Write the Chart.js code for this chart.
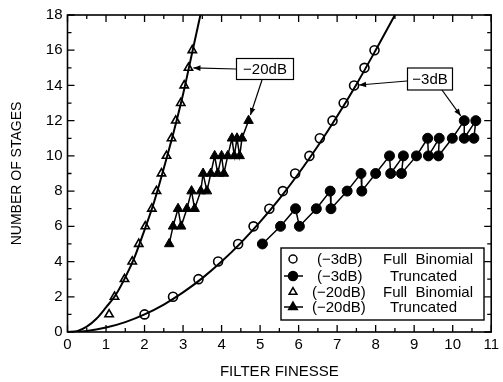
<!DOCTYPE html>
<html>
<head>
<meta charset="utf-8">
<script src="https://cdn.jsdelivr.net/npm/chart.js@4.4.1/dist/chart.umd.min.js"></script>
<style>
  html, body { margin: 0; padding: 0; background: #fff; }
</style>
</head>
<body>
<canvas id="chart" width="503" height="382"></canvas>
<script>
// stages vs filter finesse

// -3dB full binomial (open circles)
const full3Finesse = [2.0, 2.74, 3.40, 3.91, 4.43, 4.83, 5.24, 5.59, 5.91, 6.28, 6.55, 6.88, 7.17, 7.44, 7.71, 7.97];
const full3Stages = [1, 2, 3, 4, 5, 6, 7, 8, 9, 10, 11, 12, 13, 14, 15, 16];

// -3dB truncated (filled circles, zigzag)
const trunc3Finesse = [5.06, 5.53, 5.92, 6.02, 6.46, 6.82, 6.84, 7.26, 7.62, 7.64, 8.00, 8.36, 8.39, 8.72, 8.67, 9.06, 9.35, 9.37, 9.65, 9.63, 9.99, 10.30, 10.30, 10.60, 10.55];
const trunc3Stages = [5, 6, 7, 6, 7, 8, 7, 8, 9, 8, 9, 10, 9, 10, 9, 10, 11, 10, 11, 10, 11, 12, 11, 12, 11];

// -20dB full binomial (open triangles)
const full20Finesse = [1.08, 1.22, 1.48, 1.68, 1.85, 2.02, 2.19, 2.31, 2.44, 2.57, 2.70, 2.81, 2.94, 3.03, 3.14, 3.24];
const full20Stages = [1, 2, 3, 4, 5, 6, 7, 8, 9, 10, 11, 12, 13, 14, 15, 16];

// -20dB truncated (filled triangles, zigzag)
const trunc20Finesse = [2.64, 2.74, 2.87, 2.95, 3.10, 3.22, 3.30, 3.46, 3.52, 3.62, 3.72, 3.82, 3.90, 4.00, 4.06, 4.16, 4.27, 4.33, 4.40, 4.47, 4.53, 4.70];
const trunc20Stages = [5, 6, 7, 6, 7, 8, 7, 8, 9, 8, 9, 10, 9, 10, 9, 10, 11, 10, 11, 10, 11, 12];

// smooth curves drawn through the full binomial points
const curve3Finesse = [0, 0.5, 1, 1.5, 2, 2.5, 3, 3.5, 4, 4.5, 5, 5.5, 6, 6.5, 7, 7.5, 8, 8.5];
const curve3Stages = [0, 0.06, 0.25, 0.56, 1, 1.56, 2.25, 3.06, 4, 5.06, 6.25, 7.56, 9, 10.56, 12.25, 14.06, 16, 18];
const curve20Finesse = [0, 0.25, 0.5, 0.75, 1, 1.25, 1.5, 1.75, 2, 2.25, 2.5, 2.75, 3, 3.25, 3.45];
const curve20Stages = [0, 0.05, 0.3, 0.75, 1.4, 2.1, 3.1, 4.3, 5.8, 7.4, 9.3, 11.3, 13.5, 16.0, 18];

const xTicks = [0, 1, 2, 3, 4, 5, 6, 7, 8, 9, 10, 11];
const yTicks = [0, 2, 4, 6, 8, 10, 12, 14, 16, 18];

const legendLabels = [
  ['(\u22123dB)', 'Full  Binomial'],
  ['(\u22123dB)', 'Truncated'],
  ['(\u221220dB)', 'Full  Binomial'],
  ['(\u221220dB)', 'Truncated']
];

const pts = (xs, ys) => xs.map((v, i) => ({ x: v, y: ys[i] }));
const FONT = '"Liberation Sans", Arial, Helvetica, sans-serif';

function arrow(ctx, x1, y1, x2, y2, gap) {
  const ang = Math.atan2(y2 - y1, x2 - x1);
  const ex = x2 - Math.cos(ang) * gap, ey = y2 - Math.sin(ang) * gap;
  ctx.beginPath();
  ctx.moveTo(x1, y1);
  ctx.lineTo(ex, ey);
  ctx.stroke();
  const L = 7, W = 2.8;
  ctx.beginPath();
  ctx.moveTo(ex, ey);
  ctx.lineTo(ex - Math.cos(ang) * L - Math.sin(ang) * W, ey - Math.sin(ang) * L + Math.cos(ang) * W);
  ctx.lineTo(ex - Math.cos(ang) * L + Math.sin(ang) * W, ey - Math.sin(ang) * L - Math.cos(ang) * W);
  ctx.closePath();
  ctx.fill();
}

function labelBox(ctx, text, cx, cy, w, h) {
  ctx.fillStyle = '#fff';
  ctx.fillRect(cx - w / 2, cy - h / 2, w, h);
  ctx.strokeRect(cx - w / 2, cy - h / 2, w, h);
  ctx.fillStyle = '#000';
  ctx.textAlign = 'center';
  ctx.textBaseline = 'middle';
  ctx.fillText(text, cx, cy + 1);
}

const extras = {
  id: 'extras',
  afterDatasetsDraw(chart) {
    const { ctx, chartArea: a, scales: { x, y } } = chart;
    ctx.save();
    ctx.strokeStyle = '#000';
    ctx.fillStyle = '#000';

    // frame with inward ticks on all sides
    ctx.lineWidth = 1.6;
    ctx.strokeRect(a.left, a.top, a.right - a.left, a.bottom - a.top);
    ctx.lineWidth = 1.3;
    ctx.beginPath();
    for (let v = 0; v <= 11; v += 0.5) {
      const px = x.getPixelForValue(v);
      const len = Number.isInteger(v) ? 7 : 4;
      ctx.moveTo(px, a.bottom); ctx.lineTo(px, a.bottom - len);
      ctx.moveTo(px, a.top); ctx.lineTo(px, a.top + len);
    }
    for (let v = 0; v <= 18; v++) {
      const py = y.getPixelForValue(v);
      const len = v % 2 === 0 ? 7 : 4;
      ctx.moveTo(a.left, py); ctx.lineTo(a.left + len, py);
      ctx.moveTo(a.right, py); ctx.lineTo(a.right - len, py);
    }
    ctx.stroke();

    // callouts
    ctx.font = '15px ' + FONT;
    ctx.lineWidth = 1.2;
    labelBox(ctx, '\u221220dB', 265, 69, 57, 21);
    labelBox(ctx, '\u22123dB', 430, 79, 45, 22);
    const px = (xs, ys, i) => [x.getPixelForValue(xs[i]), y.getPixelForValue(ys[i])];
    let t = px(full20Finesse, full20Stages, 14);
    arrow(ctx, 236, 69, t[0], t[1], 5);
    t = px(trunc20Finesse, trunc20Stages, trunc20Finesse.length - 1);
    arrow(ctx, 262, 80, t[0], t[1], 6);
    t = px(full3Finesse, full3Stages, 13);
    arrow(ctx, 407, 81, t[0], t[1], 5);
    t = px(trunc3Finesse, trunc3Stages, 21);
    arrow(ctx, 442, 90, t[0], t[1], 6);

    // legend box
    ctx.lineWidth = 1.4;
    ctx.fillStyle = '#fff';
    ctx.fillRect(281, 248, 203, 72);
    ctx.strokeRect(281, 248, 203, 72);
    const rows = [259, 276, 292, 307];
    const styles = [
      { style: 'circle', fill: '#fff', line: false, r: 4 },
      { style: 'circle', fill: '#000', line: true, r: 4.5 },
      { style: 'triangle', fill: '#fff', line: false, r: 4.5 },
      { style: 'triangle', fill: '#000', line: true, r: 5 }
    ];
    ctx.textAlign = 'left';
    ctx.textBaseline = 'middle';
    rows.forEach((ry, i) => {
      const s = styles[i];
      ctx.strokeStyle = '#000';
      ctx.lineWidth = 1.5;
      if (s.line) {
        ctx.beginPath(); ctx.moveTo(284, ry); ctx.lineTo(303, ry); ctx.stroke();
      }
      ctx.fillStyle = s.fill;
      Chart.helpers.drawPoint(ctx, { pointStyle: s.style, radius: s.r, rotation: 0, borderWidth: 1.5 }, 293, ry);
      ctx.fillStyle = '#000';
      ctx.fillText(legendLabels[i][0], i < 2 ? 317 : 312, ry + 1);
      ctx.fillText(legendLabels[i][1], i % 2 === 0 ? 383 : 390, ry + 1);
    });
    ctx.restore();
  }
};

const black = '#000';
new Chart(document.getElementById('chart'), {
  type: 'line',
  data: {
    datasets: [
      { data: pts(curve3Finesse, curve3Stages), borderColor: black, borderWidth: 2, pointRadius: 0, cubicInterpolationMode: 'monotone' },
      { data: pts(curve20Finesse, curve20Stages), borderColor: black, borderWidth: 2, pointRadius: 0, cubicInterpolationMode: 'monotone' },
      { data: pts(full3Finesse, full3Stages), showLine: false, pointStyle: 'circle', pointRadius: 4.5, pointBorderWidth: 1.6, pointBackgroundColor: '#fff', pointBorderColor: black },
      { data: pts(trunc3Finesse, trunc3Stages), borderColor: black, borderWidth: 1.5, pointStyle: 'circle', pointRadius: 5, pointBorderWidth: 1, pointBackgroundColor: black, pointBorderColor: black },
      { data: pts(full20Finesse, full20Stages), showLine: false, pointStyle: 'triangle', pointRadius: 4.8, pointBorderWidth: 1.6, pointBackgroundColor: '#fff', pointBorderColor: black },
      { data: pts(trunc20Finesse, trunc20Stages), borderColor: black, borderWidth: 1.5, pointStyle: 'triangle', pointRadius: 5.5, pointBorderWidth: 1, pointBackgroundColor: black, pointBorderColor: black }
    ]
  },
  options: {
    responsive: false,
    animation: false,
    layout: { padding: { top: 15, right: 9, left: 0, bottom: 0 } },
    plugins: { legend: { display: false }, tooltip: { enabled: false } },
    scales: {
      x: {
        type: 'linear', min: 0, max: 11,
        afterBuildTicks: s => { s.ticks = xTicks.map(v => ({ value: v })); },
        afterFit: s => { s.height = 50; },
        grid: { display: false, drawTicks: false },
        border: { display: false },
        ticks: { padding: 4, color: '#000', font: { family: FONT, size: 15 } },
        title: { display: true, text: 'FILTER FINESSE', color: '#000', font: { family: FONT, size: 15 }, padding: { top: 0, bottom: 1 } }
      },
      y: {
        min: 0, max: 18,
        afterBuildTicks: s => { s.ticks = yTicks.map(v => ({ value: v })); },
        afterFit: s => { s.width = 67.5; },
        grid: { display: false, drawTicks: false },
        border: { display: false },
        ticks: { padding: 5, color: '#000', font: { family: FONT, size: 15 } },
        title: { display: true, text: 'NUMBER OF STAGES', color: '#000', font: { family: FONT, size: 14 }, padding: { top: 9, bottom: 0 } }
      }
    }
  },
  plugins: [extras]
});
</script>
</body>
</html>
